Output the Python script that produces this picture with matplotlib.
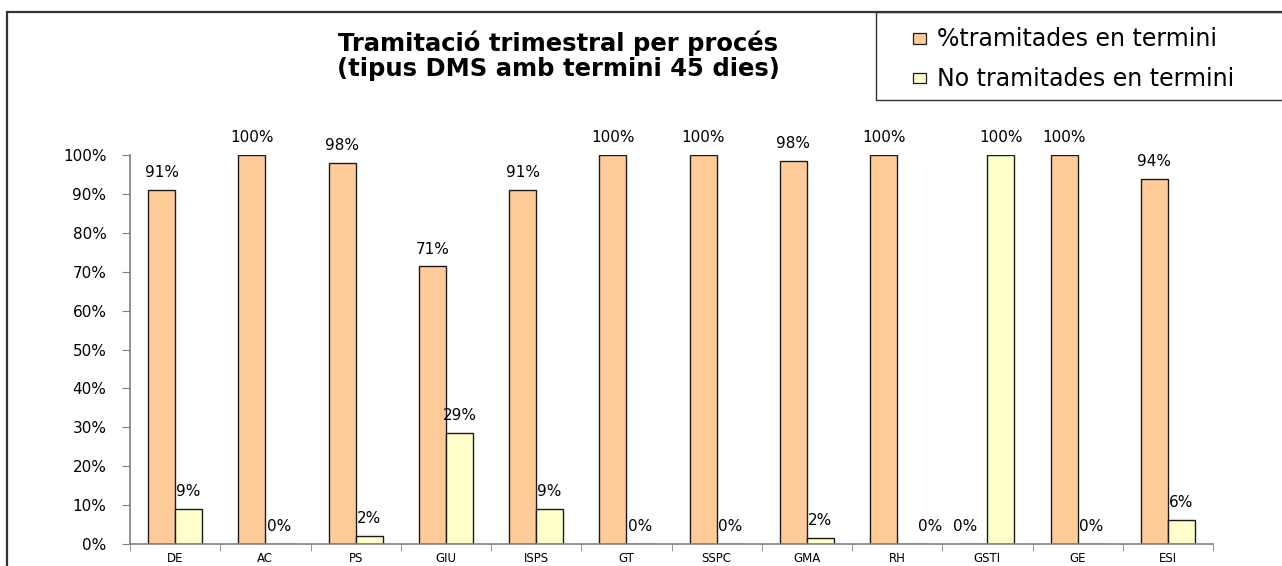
import matplotlib
matplotlib.use("Agg")
import matplotlib.pyplot as plt
from matplotlib.patches import Rectangle
import numpy as np

plt.rcParams['font.family'] = ['DejaVu Sans']

categories = ["DE", "AC", "PS", "GIU", "ISPS", "GT", "SSPC", "GMA", "RH", "GSTI", "GE", "ESI"]
en_termini = [91, 100, 98, 71.4, 91, 100, 100, 98.5, 100, 0, 100, 93.8]
no_termini = [9, 0, 2, 28.6, 9, 0, 0, 1.5, 0, 100, 0, 6.2]
series_names = ["%tramitades en termini", "No tramitades en termini"]
yticks = [0, 10, 20, 30, 40, 50, 60, 70, 80, 90, 100]
title = "Tramitació trimestral per procés\n(tipus DMS amb termini 45 dies)"

W, H = 1282, 566
fig = plt.figure(figsize=(W / 100, H / 100), dpi=100)
ax = fig.add_axes([130 / W, 1 - 544 / H, (1213 - 130) / W, (544 - 155) / H])

x = np.arange(len(categories))
bw = 0.3
c1, c2 = "#FFCC99", "#FFFFCC"
ax.bar(x - bw / 2, en_termini, bw, color=c1, edgecolor="#1a1a1a", linewidth=1.0, label=series_names[0])
ax.bar(x + bw / 2, no_termini, bw, color=c2, edgecolor="#1a1a1a", linewidth=1.0, label=series_names[1])

# small horizontal nudges for labels that would collide (in points)
nudge1 = {9: -6}
nudge2 = {8: 14}
for i, v in enumerate(en_termini):
    ax.annotate(f"{round(v)}%", (x[i] - bw / 2, v), xytext=(nudge1.get(i, 0), 7),
                textcoords="offset points", ha="center", va="bottom", fontsize=11, annotation_clip=False)
for i, v in enumerate(no_termini):
    ax.annotate(f"{round(v)}%", (x[i] + bw / 2, v), xytext=(nudge2.get(i, 0), 7),
                textcoords="offset points", ha="center", va="bottom", fontsize=11, annotation_clip=False)

ax.set_xlim(-0.5, len(categories) - 0.5)
ax.set_ylim(0, 100)
ax.set_yticks(yticks)
ax.set_yticklabels([f"{t}%" for t in yticks], fontsize=11)
ax.set_xticks(x)
ax.set_xticklabels(categories, fontsize=8.5)
ax.set_xticks(np.arange(-0.5, len(categories)), minor=True)
ax.tick_params(axis="x", which="major", length=0, pad=6)
ax.tick_params(axis="x", which="minor", length=5, color="#808080", direction="out")
ax.tick_params(axis="y", length=6, color="#808080", direction="out", pad=11)
for s in ["top", "right"]:
    ax.spines[s].set_visible(False)
ax.spines["left"].set_color("#808080")
ax.spines["bottom"].set_color("#808080")
ax.spines["left"].set_linewidth(1.2)
ax.spines["bottom"].set_linewidth(1.2)

fig.text(558 / W, 1 - 56 / H, title, ha="center", va="center", fontsize=17.5,
         fontweight="bold", linespacing=1.05)

# outer chart frame
fig.add_artist(Rectangle((7 / W, -0.05), 1.2, 1 - 12 / H + 0.05, transform=fig.transFigure,
                         fill=False, edgecolor="#333333", linewidth=1.6))

# legend box
fig.add_artist(Rectangle((876 / W, 1 - 100 / H), 0.5, 88 / H, transform=fig.transFigure,
                         fill=False, edgecolor="#333333", linewidth=1.0))
for j, (name, col) in enumerate(zip(series_names, [c1, c2])):
    yc = 38.5 + j * 40
    fig.add_artist(Rectangle((913 / W, 1 - (yc + 5) / H), 13 / W, 10 / H, transform=fig.transFigure,
                             facecolor=col, edgecolor="#1a1a1a", linewidth=0.9))
    fig.text(937 / W, 1 - yc / H, name, ha="left", va="center", fontsize=17)

fig.savefig("out.png", dpi=100)
